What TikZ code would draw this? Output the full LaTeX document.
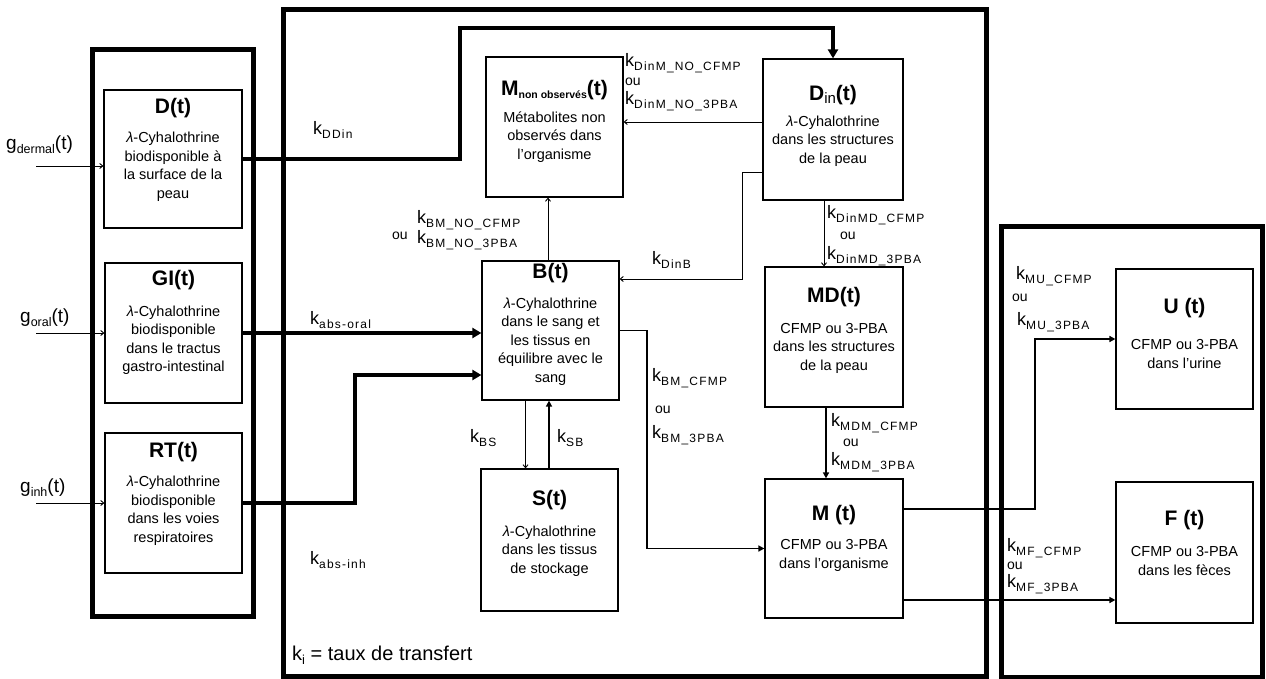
\documentclass[tikz,border=0pt]{standalone}
\usepackage{fontspec}
\setmainfont{Liberation Sans}
\usetikzlibrary{arrows.meta}
\newcommand{\sbs}[1]{\raisebox{-4pt}{\fontsize{12}{13}\selectfont\addfontfeatures{LetterSpace=10}#1}}
\newcommand{\kl}[1]{k\sbs{#1}}
\newcommand{\gsub}[1]{\raisebox{-3.5pt}{\fontsize{12.5}{13}\selectfont #1}}
\begin{document}
\begin{tikzpicture}[x=1pt,y=-1pt,
 box/.style={draw, line width=1.2pt, minimum width=137pt, minimum height=140pt, inner sep=0pt},
 outerbox/.style={draw, line width=5pt, inner sep=0pt},
 ttl/.style={font=\fontsize{21}{24}\selectfont\bfseries, inner sep=0pt},
 body/.style={font=\fontsize{14.5}{18.5}\selectfont, align=center, inner sep=0pt},
 lab/.style={font=\fontsize{18}{19}\selectfont, anchor=west, inner sep=0pt},
 oulab/.style={font=\fontsize{14}{16}\selectfont, anchor=west, inner sep=0pt},
 glab/.style={font=\fontsize{19}{20}\selectfont, anchor=west, inner sep=0pt},
 thinarr/.style={line width=0.9pt, -{Straight Barb[length=3pt,width=5pt]}},
 thickarr/.style={line width=3.5pt, -{Triangle[length=9pt,width=10pt]}},
 midarr/.style={line width=2.2pt, -{Triangle[length=6pt,width=6pt]}},
]
\useasboundingbox (0,0) rectangle (1266,679);
% outer boxes
\node[outerbox, minimum width=161pt, minimum height=566pt] (left) at (172.5,333) {};
\node[outerbox, minimum width=703pt, minimum height=666pt] (mid) at (634.5,343) {};
\node[outerbox, minimum width=261pt, minimum height=450pt] (right) at (1131.5,452) {};
% compartments
\node[box, minimum width=138pt, minimum height=138pt] (D) at (173,159) {};
\node[box] (GI) at (173.5,333) {};
\node[box] (RT) at (173.5,503) {};
\node[box] (Mno) at (554.5,127) {};
\node[box, minimum width=140pt, minimum height=141pt] (Din) at (833,129.5) {};
\node[box, minimum height=139pt] (B) at (550.5,330.5) {};
\node[box, minimum height=142pt] (S) at (549.5,540) {};
\node[box, minimum width=138pt] (MD) at (834,337) {};
\node[box, minimum width=138pt, minimum height=139pt] (M) at (834,548.5) {};
\node[box] (U) at (1184.5,339) {};
\node[box, minimum height=141pt] (F) at (1184.5,552.5) {};
% titles and texts
\node[ttl] (Dt) at (173,108) {D(t)};
\node[body] (Db) at (173,167) {\textit{λ}-Cyhalothrine\\biodisponible à\\la surface de la\\peau};
\node[ttl] (GIt) at (173.5,280) {GI(t)};
\node[body] (GIb) at (173.5,340) {\textit{λ}-Cyhalothrine\\biodisponible\\dans le tractus\\gastro-intestinal};
\node[ttl] (RTt) at (173.5,452) {RT(t)};
\node[body] (RTb) at (173.5,510.5) {\textit{λ}-Cyhalothrine\\biodisponible\\dans les voies\\respiratoires};
\node[ttl] (Mnot) at (554.5,90) {M\raisebox{-3pt}{\fontsize{10.5}{11}\selectfont non observés}(t)};
\node[body] (Mnob) at (554.5,137) {Métabolites non\\observés dans\\l’organisme};
\node[ttl] (Dint) at (833,95) {D\raisebox{-3pt}{\fontsize{15}{16}\selectfont\mdseries in}(t)};
\node[body] (Dinb) at (833,141) {\textit{λ}-Cyhalothrine\\dans les structures\\de la peau};
\node[ttl] (Bt) at (550.5,273) {B(t)};
\node[body] (Bb) at (550.5,341.5) {\textit{λ}-Cyhalothrine\\dans le sang et\\les tissus en\\équilibre avec le\\sang};
\node[ttl] (St) at (549.5,500) {S(t)};
\node[body] (Sb) at (549.5,551) {\textit{λ}-Cyhalothrine\\dans les tissus\\de stockage};
\node[ttl] (MDt) at (834,297) {MD(t)};
\node[body] (MDb) at (834,348) {CFMP ou 3-PBA\\dans les structures\\de la peau};
\node[ttl] (Mt) at (834,515) {M (t)};
\node[body] (Mb) at (834,555.5) {CFMP ou 3-PBA\\dans l’organisme};
\node[ttl] (Ut) at (1184.5,308) {U (t)};
\node[body] (Ub) at (1184.5,354) {CFMP ou 3-PBA\\dans l’urine};
\node[ttl] (Ft) at (1184.5,520) {F (t)};
\node[body] (Fb) at (1184.5,561) {CFMP ou 3-PBA\\dans les fèces};
% input labels
\node[glab] (gd) at (6,145) {g\gsub{dermal}(t)};
\node[glab] (go) at (20,318) {g\gsub{oral}(t)};
\node[glab] (gi) at (20,488) {g\gsub{inh}(t)};
% rate labels
\node[lab] (kDDin) at (313,130) {\kl{DDin}};
\node[lab] (kabso) at (310,320) {\kl{abs-oral}};
\node[lab] (kabsi) at (310,560) {\kl{abs-inh}};
\node[lab] (kBMNOa) at (417,220) {\kl{BM\_NO\_CFMP}};
\node[oulab] (ou1) at (392,236) {ou};
\node[lab] (kBMNOb) at (417,240) {\kl{BM\_NO\_3PBA}};
\node[lab] (kDinMa) at (625,63) {\kl{DinM\_NO\_CFMP}};
\node[oulab] (ou2) at (625,82) {ou};
\node[lab] (kDinMb) at (625,101) {\kl{DinM\_NO\_3PBA}};
\node[lab] (kDinB) at (652,260) {\kl{DinB}};
\node[lab] (kDinMDa) at (827,215) {\kl{DinMD\_CFMP}};
\node[oulab] (ou3) at (840,236) {ou};
\node[lab] (kDinMDb) at (827,256) {\kl{DinMD\_3PBA}};
\node[lab] (kBMa) at (652,378) {\kl{BM\_CFMP}};
\node[oulab] (ou4) at (655,410) {ou};
\node[lab] (kBMb) at (652,435) {\kl{BM\_3PBA}};
\node[lab] (kBS) at (470,438) {\kl{BS}};
\node[lab] (kSB) at (557,438) {\kl{SB}};
\node[lab] (kMDMa) at (831,423) {\kl{MDM\_CFMP}};
\node[oulab] (ou5) at (843,443) {ou};
\node[lab] (kMDMb) at (831,462) {\kl{MDM\_3PBA}};
\node[lab] (kMUa) at (1016,276) {\kl{MU\_CFMP}};
\node[oulab] (ou6) at (1012,298) {ou};
\node[lab] (kMUb) at (1017,322) {\kl{MU\_3PBA}};
\node[lab] (kMFa) at (1007,548) {\kl{MF\_CFMP}};
\node[oulab] (ou7) at (1007,566) {ou};
\node[lab] (kMFb) at (1007,584) {\kl{MF\_3PBA}};
\node[lab, font=\fontsize{20}{22}\selectfont] (ki) at (292,655) {k\raisebox{-4pt}{\fontsize{13}{14}\selectfont i} = taux de transfert};
% bend coordinates
\coordinate (cgd) at (36,166);
\coordinate (cgo) at (36,333);
\coordinate (cgi) at (36,503);
\coordinate (c1) at (460,28);
\coordinate (c2) at (355,375);
\coordinate (c3) at (742,279);
\coordinate (c4) at (647,400);
\coordinate (c5) at (1035,420);
% connectors
\draw[thinarr] (cgd) -- (cgd -| D.west);
\draw[thinarr] (cgo) -- (cgo -| GI.west);
\draw[thinarr] (cgi) -- (cgi -| RT.west);
\draw[thickarr] (D.east) -| (c1) -| (Din.north);
\draw[thickarr] (GI.east) -- (GI.east -| B.west);
\draw[thickarr] (RT.east) -| (c2) -- (c2 -| B.west);
\draw[thinarr] ([yshift=7.5pt]Din.west) -- ([yshift=7.5pt]Din.west -| Mno.east);
\draw[thinarr] ([yshift=-42.5pt]Din.west) -| (c3) -- (c3 -| B.east);
\draw[thinarr] ([xshift=-9pt]Din.south) -- ([xshift=-9pt]Din.south |- MD.north);
\draw[thinarr] ([xshift=-2.5pt]B.north) -- ([xshift=-2.5pt]B.north |- Mno.south);
\draw[thinarr] ([xshift=-25pt]B.south) -- ([xshift=-25pt]B.south |- S.north);
\draw[midarr, line width=1.8pt] ([xshift=-0.5pt]S.north) -- ([xshift=-0.5pt]S.north |- B.south);
\draw[midarr, line width=1.8pt] (B.east) -| (c4) |- (M.west);
\draw[midarr] ([xshift=-8pt]MD.south) -- ([xshift=-8pt]MD.south |- M.north);
\draw[midarr] ([yshift=39.5pt]M.east) -| (c5) |- (U.west);
\draw[midarr] ([yshift=-51.5pt]M.east) -- ([yshift=-51.5pt]M.east -| F.west);
\end{tikzpicture}
\end{document}
